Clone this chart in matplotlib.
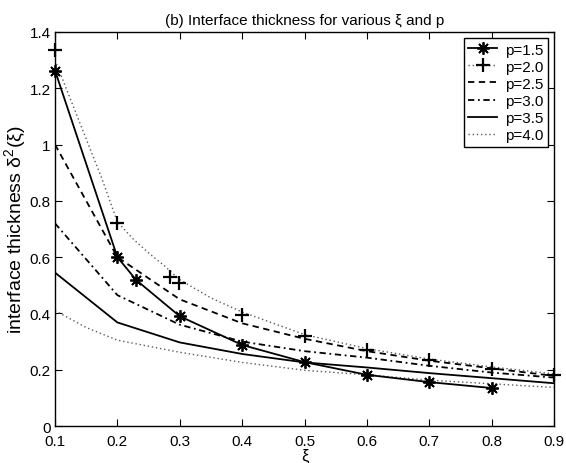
import numpy as np
import matplotlib
matplotlib.use("Agg")
import matplotlib.pyplot as plt
from matplotlib.lines import Line2D

plt.rcParams['font.family'] = ['Liberation Sans', 'DejaVu Sans']
plt.rcParams['mathtext.fontset'] = 'custom'
plt.rcParams['mathtext.rm'] = 'Liberation Sans'
plt.rcParams['mathtext.it'] = 'Liberation Sans'

# p=1.5 (solid with *)
xi_15 = [0.1, 0.2, 0.23, 0.3, 0.4, 0.5, 0.6, 0.7, 0.8]
d_15 = [1.263, 0.60, 0.519, 0.39, 0.288, 0.227, 0.182, 0.156, 0.135]

# p=2.0 dotted curve and + points
xi_20 = [0.1, 0.125, 0.15, 0.175, 0.2, 0.225, 0.25, 0.275, 0.3, 0.35, 0.4, 0.45, 0.5, 0.6, 0.7, 0.8, 0.9]
d_20 = [1.30, 1.16, 1.02, 0.88, 0.725, 0.665, 0.615, 0.57, 0.52, 0.455, 0.405, 0.365, 0.325, 0.275, 0.238, 0.21, 0.185]
xi_20_pts = [0.1, 0.2, 0.284, 0.299, 0.4, 0.5, 0.6, 0.7, 0.8, 0.9]
d_20_pts = [1.337, 0.721, 0.531, 0.507, 0.393, 0.321, 0.27, 0.234, 0.203, 0.183]

xi = [0.1, 0.2, 0.3, 0.4, 0.5, 0.6, 0.7, 0.8, 0.9]
d_25 = [1.0, 0.60, 0.45, 0.365, 0.31, 0.266, 0.232, 0.205, 0.178]
d_30 = [0.72, 0.465, 0.36, 0.30, 0.266, 0.243, 0.214, 0.19, 0.172]
d_35 = [0.545, 0.368, 0.297, 0.256, 0.226, 0.208, 0.188, 0.17, 0.152]

xi_40 = [0.1, 0.15, 0.2, 0.3, 0.4, 0.5, 0.6, 0.7, 0.8, 0.9]
d_40 = [0.41, 0.35, 0.305, 0.262, 0.226, 0.198, 0.182, 0.163, 0.15, 0.137]

fs = 11
dot = (0, (1, 2))
gray = '0.35'
ast = (8, 2, 0)

fig = plt.figure(figsize=(5.66, 4.64), dpi=100)
ax = fig.add_axes([0.0972, 0.0797, 0.8816, 0.8492])

ax.plot(xi_15, d_15, '-k', marker=ast, ms=9, mew=1.3, lw=1.3, clip_on=False, zorder=3)
ax.plot(xi_20, d_20, ls=dot, color=gray, lw=1.0)
ax.plot(xi_20_pts, d_20_pts, 'k+', ms=10, mew=1.6, clip_on=False, zorder=3)
ax.plot(xi, d_25, '--k', lw=1.3, dashes=(3.5, 2.5))
ax.plot(xi, d_30, '-.k', lw=1.3, dashes=(3.5, 2, 1, 2))
ax.plot(xi, d_35, '-k', lw=1.3)
ax.plot(xi_40, d_40, ls=dot, color=gray, lw=1.0)

ax.set_xlim(0.1, 0.9)
ax.set_ylim(0, 1.4)
ax.set_xticks([0.1, 0.2, 0.3, 0.4, 0.5, 0.6, 0.7, 0.8, 0.9])
ax.set_yticks([0, 0.2, 0.4, 0.6, 0.8, 1.0, 1.2, 1.4])
ax.set_yticklabels(['0', '0.2', '0.4', '0.6', '0.8', '1', '1.2', '1.4'])
ax.tick_params(direction='in', top=True, right=True, length=5, labelsize=fs)
ax.tick_params(axis='x', pad=5.5)
ax.tick_params(axis='y', pad=3)
for s in ax.spines.values():
    s.set_linewidth(1.0)

ax.set_xlabel('ξ', fontsize=fs + 1, labelpad=0)
ax.set_ylabel(r'interface thickness $\mathrm{\delta^2(\xi)}$', fontsize=14, labelpad=1)
ax.set_title('(b) Interface thickness for various ξ and p', fontsize=fs, pad=6)

handles = [
    Line2D([], [], color='k', ls='-', lw=1.3, marker=ast, ms=9, mew=1.3),
    Line2D([], [], color=gray, ls=dot, lw=1.0, marker='+', mec='k', ms=10, mew=1.6),
    Line2D([], [], color='k', ls='--', lw=1.3, dashes=(3.5, 2.5)),
    Line2D([], [], color='k', ls='-.', lw=1.3, dashes=(3.5, 2, 1, 2)),
    Line2D([], [], color='k', ls='-', lw=1.3),
    Line2D([], [], color=gray, ls=dot, lw=1.0),
]
labels = ['p=1.5', 'p=2.0', 'p=2.5', 'p=3.0', 'p=3.5', 'p=4.0']
leg = ax.legend(handles, labels, loc='upper right', fontsize=fs, fancybox=False,
                framealpha=1, edgecolor='k', borderaxespad=0.4, handlelength=1.9,
                labelspacing=0.2, borderpad=0.3, handletextpad=0.5, numpoints=1)
leg.get_frame().set_linewidth(1.0)

fig.savefig('out.png', dpi=100)
